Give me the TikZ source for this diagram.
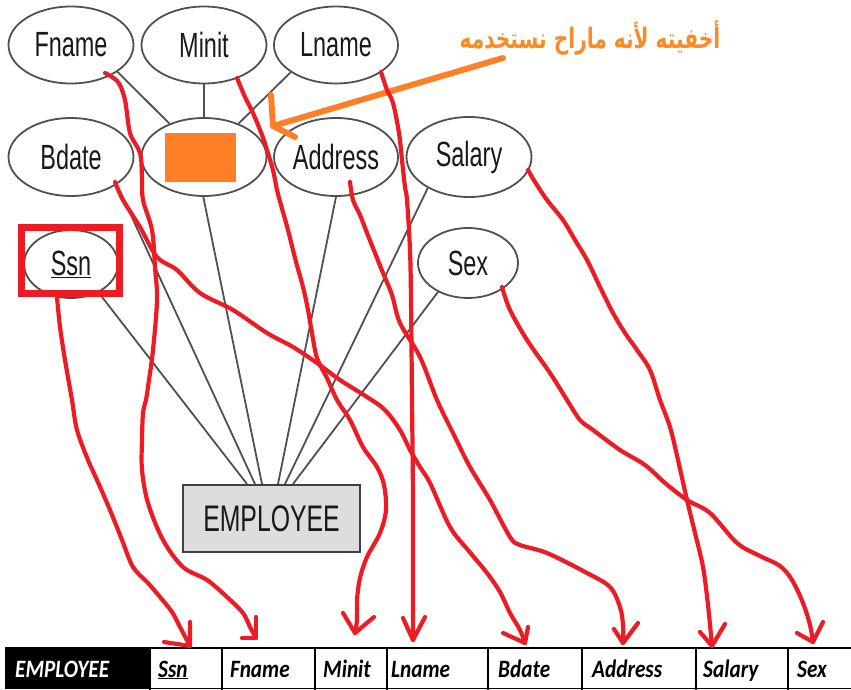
\documentclass[tikz,border=0pt]{standalone}
\usepackage{fontspec}
\usetikzlibrary{shapes.geometric}
\TeXXeTstate=1
\newfontfamily\erfont[FakeStretch=0.67]{Liberation Sans}
\newfontfamily\tabfont[FakeStretch=0.85]{Carlito}
\newfontfamily\arabicfont[Script=Arabic,FakeStretch=0.72]{DejaVu Sans}
\definecolor{redpen}{RGB}{237,28,36}
\definecolor{orangepen}{RGB}{255,127,39}
\definecolor{orangetext}{RGB}{247,140,40}
\definecolor{erline}{RGB}{80,80,80}
\definecolor{empfill}{RGB}{221,221,221}
\tikzset{
  attr/.style={ellipse, draw=erline, line width=1.8pt, inner sep=0pt,
    minimum width=125pt, minimum height=77pt,
    font=\erfont\fontsize{35}{35}\selectfont, text=black!90},
  conn/.style={draw=erline, line width=1.8pt},
  redline/.style={draw=redpen, line width=4.2pt, line cap=round, line join=round},
  orangeline/.style={draw=orangepen, line width=6pt, line cap=round, line join=round},
  cell/.style={anchor=base west, inner sep=0pt, font=\tabfont\bfseries\itshape\fontsize{25}{25}\selectfont},
  tline/.style={draw=black, line width=1.6pt}
}
\begin{document}
\begin{tikzpicture}[x=1pt,y=-1pt]
\fill[white] (0,0) rectangle (851,690);
\useasboundingbox (0,0) rectangle (851,690);

% attribute ellipses
\node[attr] (Fname) at (71,45) {Fname};
\node[attr] (Minit) at (204,45) {Minit};
\node[attr, minimum width=124pt] (Lname) at (336,45) {Lname};
\node[attr, minimum height=78pt] (Bdate) at (71,157) {Bdate};
\node[attr, minimum height=78pt] (Name) at (204,157) {};
\node[attr, minimum width=124pt, minimum height=78pt] (Address) at (336,157) {Address};
\node[attr, minimum height=80pt] (Salary) at (469,157) {Salary};
\node[attr, minimum width=94pt, minimum height=68pt] (Ssn) at (71,264) {\underline{Ssn}};
\node[attr, minimum width=100pt, minimum height=70pt] (Sex) at (468,263) {Sex};

% hidden name label
\node[fill=orangepen, minimum width=71pt, minimum height=49pt, inner sep=0pt] (hide) at (200.5,157.5) {};

% entity
\node[draw=erline!80!black, fill=empfill, line width=2pt, minimum width=177pt, minimum height=67pt,
  inner sep=0pt, font=\erfont\fontsize{37}{37}\selectfont, text=black!90] (EMP) at (271.5,518.5) {EMPLOYEE};

% composite attribute lines
\draw[conn] (Fname.-30) -- (Name.136);
\draw[conn] (Minit.south) -- (Name.north);
\draw[conn] (Lname.211) -- (Name.44);

% attribute to entity
\draw[conn] (Ssn.-46) -- ([xshift=-24.5pt]EMP.north);
\draw[conn] (Bdate.-31) -- ([xshift=-16.5pt]EMP.north);
\draw[conn] (Name.-91) -- ([xshift=-9.5pt]EMP.north);
\draw[conn] (Address.-90) -- ([xshift=6.5pt]EMP.north);
\draw[conn] (Salary.217) -- ([xshift=13.5pt]EMP.north);
\draw[conn] (Sex.224) -- ([xshift=21.5pt]EMP.north);

% red box round Ssn
\draw[draw=redpen, line width=6.5pt] (21.5,227.5) rectangle (119.5,293.5);

% Arabic note and orange arrow
\node[text=orangetext, inner sep=0pt, font=\arabicfont\bfseries\fontsize{28}{28}\selectfont] (note) at (590,38) {\beginR أخفيته لأنه ماراح نستخدمه\endR};
\coordinate (arrS) at (503,58);
\coordinate (arrT) at (273,126);
\draw[orangeline] (arrS) -- (arrT);
\draw[orangeline] (271,95) -- (arrT) -- (295,137);

% table
\fill[black] (5,648) rectangle (150,689);
\draw[tline] (5,648) -- (851,648);
\draw[tline] (5,688.5) -- (851,688.5);
\foreach \x in {150,222,315,387,488,582,696,788} { \draw[tline] (\x,648) -- (\x,690); }
\node[cell, text=white] (tEmp) at (15,677) {EMPLOYEE};
\node[cell] (tSsn) at (158,677) {\underline{Ssn}};
\node[cell] (tFname) at (230,677) {Fname};
\node[cell] (tMinit) at (323,677) {Minit};
\node[cell] (tLname) at (391,677) {Lname};
\node[cell] (tBdate) at (498,677) {Bdate};
\node[cell] (tAddress) at (592,677) {Address};
\node[cell] (tSalary) at (703,677) {Salary};
\node[cell] (tSex) at (797,677) {Sex};

% arrow tips
\coordinate (aSsn) at (190,646);
\coordinate (aFname) at (256,638);
\coordinate (aMinit) at (355,633);
\coordinate (aLname) at (413,640);
\coordinate (aBdate) at (525,643);
\coordinate (aAddress) at (623,643);
\coordinate (aSalary) at (712,646);
\coordinate (aSex) at (813,642);

% red mapping curves
\draw[redline] plot[smooth, tension=0.55] coordinates {([xshift=-14pt,yshift=-33pt]Ssn.center) (60,327) (65,360) (72,400) (77,430) (88,460) (97,480) (110,510) (122,540) (133,567) (148,583) (160,597) (172,612) (180,627) (aSsn)};
\draw[redline] (190,622) -- (aSsn) -- (164,642);

\draw[redline] plot[smooth, tension=0.55] coordinates {([xshift=34pt,yshift=-28pt]Fname.center) (118,82) (125,100) (130,133) (140,153) (142,177) (143,200) (152,230) (155,267) (157,300) (153,350) (148,387) (146,400) (143,413) (142,440) (142,470) (148,503) (163,540) (183,567) (207,580) (227,597) (243,613) (250,627) (aFname)};
\draw[redline] (256,617) -- (aFname) -- (242,638);

\draw[redline] plot[smooth, tension=0.55] coordinates {([xshift=33pt,yshift=-33pt]Minit.center) (245,97) (253,113) (262,135) (267,150) (273,170) (277,190) (281,205) (288,230) (295,258) (303,287) (308,310) (312,333) (317,358) (327,378) (337,400) (350,420) (363,447) (377,467) (384,485) (386,510) (380,533) (367,557) (360,578) (357,600) (357,620) (aMinit)};
\draw[redline] (343,613) -- (aMinit) -- (374,617);

\draw[redline] plot[smooth, tension=0.55] coordinates {([xshift=45pt,yshift=-27pt]Lname.center) (387,90) (393,103) (399,133) (402,160) (405,187) (407,200) (410,250) (411,300) (412,400) (413,500) (413,600) (aLname)};
\draw[redline] (403,618) -- (aLname) -- (425,617);

\draw[redline] plot[smooth, tension=0.55] coordinates {([xshift=44pt,yshift=-25pt]Bdate.center) (123,200) (140,227) (157,257) (177,270) (200,293) (233,310) (267,333) (293,347) (317,363) (340,380) (367,397) (385,410) (400,430) (410,450) (420,467) (430,483) (450,527) (468,550) (487,573) (500,592) (510,613) (520,630) (aBdate)};
\draw[redline] (528,627) -- (aBdate) -- (503,633);

\draw[redline] plot[smooth, tension=0.55] coordinates {([xshift=14pt,yshift=-25pt]Address.center) (353,200) (360,215) (367,233) (375,253) (383,273) (392,295) (400,323) (420,357) (437,400) (453,433) (470,467) (490,500) (510,537) (520,545) (547,553) (587,573) (610,587) (620,607) (623,625) (aAddress)};
\draw[redline] (614,629) -- (aAddress) -- (638,623);

\draw[redline] plot[smooth, tension=0.55] coordinates {([xshift=59pt,yshift=-13pt]Salary.center) (535,182) (547,200) (563,220) (575,240) (587,260) (600,287) (613,313) (625,333) (637,350) (650,370) (660,400) (670,427) (678,460) (687,500) (695,533) (703,567) (708,605) (aSalary)};
\draw[redline] (700,632) -- (aSalary) -- (725,624);

\draw[redline] plot[smooth, tension=0.55] coordinates {([xshift=34pt,yshift=-24pt]Sex.center) (510,310) (527,340) (550,373) (567,400) (580,420) (593,430) (620,450) (645,465) (665,483) (687,500) (710,513) (737,543) (760,556) (780,566) (792,580) (803,603) (810,625) (aSex)};
\draw[redline] (797,633) -- (aSex) -- (823,622);
\end{tikzpicture}
\end{document}
